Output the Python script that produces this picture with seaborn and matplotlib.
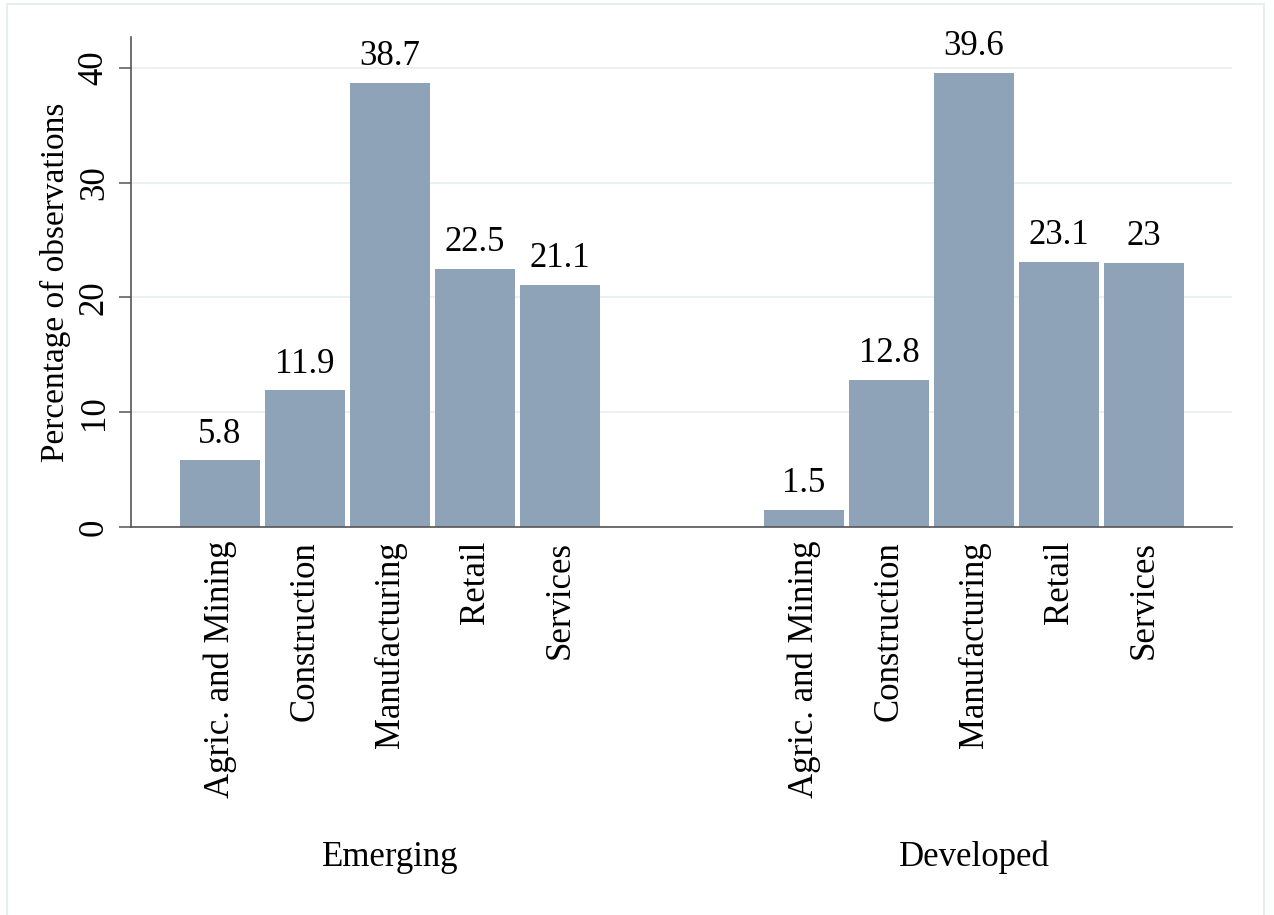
import numpy as np
import pandas as pd
import matplotlib
matplotlib.use("Agg")
import matplotlib.pyplot as plt
import matplotlib.transforms as mtransforms
from matplotlib.patches import Rectangle
import seaborn as sns

# Share of observations by sector, emerging vs developed
groups = ["Emerging", "Developed"]
sectors = ["Agric. and Mining", "Construction", "Manufacturing", "Retail", "Services"]
emerging_pct = [5.8, 11.9, 38.7, 22.5, 21.1]
developed_pct = [1.5, 12.8, 39.6, 23.1, 23.0]
y_ticks = [0, 10, 20, 30, 40]

# space between the two groups, in bar widths
group_gap = 2.87

rows = []
for g, vals in zip(groups, [emerging_pct, developed_pct]):
    gi = groups.index(g)
    for i, (s, v) in enumerate(zip(sectors, vals)):
        rows.append({"group": g, "sector": s, "pct": v,
                     "pos": gi * (len(sectors) - 1 + group_gap) + i})
df = pd.DataFrame(rows)

sns.set_style("white")
plt.rcParams["font.family"] = ["Liberation Serif", "DejaVu Serif"]
plt.rcParams["text.color"] = "black"
plt.rcParams["axes.labelcolor"] = "black"
plt.rcParams["xtick.labelcolor"] = "black"
plt.rcParams["ytick.labelcolor"] = "black"

bar_color = "#8ea3b8"
grid_color = "#eaf1f3"
axis_color = "#555555"

fig = plt.figure(figsize=(12.74, 9.15), dpi=100)
ax = fig.add_axes([131 / 1274, 1 - 527 / 915, (1232 - 131) / 1274, (527 - 37) / 915])

sns.barplot(data=df, x="pos", y="pct", native_scale=True, width=0.94,
            color=bar_color, saturation=1, errorbar=None, edgecolor="none",
            ax=ax, zorder=2)

for c in ax.containers:
    ax.bar_label(c, fmt="%g", padding=7, fontsize=25, color="black")

ax.set_xlim(df["pos"].min() - 1.047, df["pos"].max() + 1.035)
ax.set_ylim(0, 42.7)

ax.set_xticks(df["pos"])
ax.set_xticklabels(df["sector"], rotation=90, fontsize=25, va="top", ha="center")
ax.tick_params(axis="x", length=0, pad=10)

ax.set_yticks(y_ticks)
ax.set_yticklabels([str(t) for t in y_ticks], rotation=90, va="center", fontsize=25)
ax.tick_params(axis="y", length=8.5, width=1.1, color=axis_color, pad=6, left=True)

ax.yaxis.grid(True, color=grid_color, linewidth=1.4, zorder=0)
ax.set_axisbelow(True)
ax.set_ylabel("Percentage of observations", fontsize=24, labelpad=5)
ax.set_xlabel("")

for side in ["top", "right"]:
    ax.spines[side].set_visible(False)
for side in ["left", "bottom"]:
    ax.spines[side].set_color(axis_color)
    ax.spines[side].set_linewidth(1.2)

# group names under the sector labels
trans = mtransforms.blended_transform_factory(ax.transData, ax.transAxes)
for g in groups:
    center = df.loc[df["group"] == g, "pos"].mean()
    ax.text(center, -0.6735, g, transform=trans, ha="center", va="center", fontsize=25)

# faint outer frame
fig.patches.append(Rectangle((7 / 1274, -0.01), (1264 - 7) / 1274, 1.01 - 4 / 915,
                             transform=fig.transFigure, fill=False,
                             edgecolor="#e6eef0", linewidth=1.5))

fig.savefig("out.png", dpi=100)
